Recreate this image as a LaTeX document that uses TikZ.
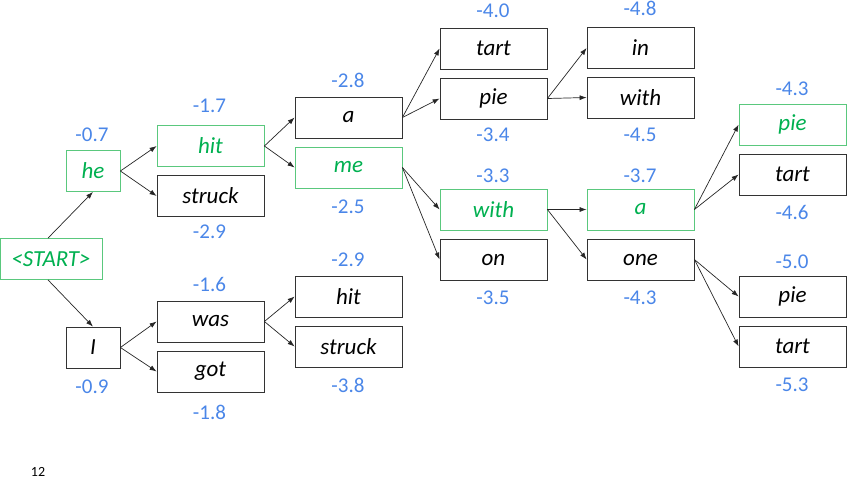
\documentclass[tikz,border=0pt]{standalone}
\usepackage{fontspec}
\setmainfont{Carlito}
\usepackage{xcolor}
\usetikzlibrary{arrows.meta}

\definecolor{keepgreen}{RGB}{0,176,80}
\definecolor{keepline}{RGB}{90,200,125}
\definecolor{scoreblue}{RGB}{74,134,232}

\begin{document}
\begin{tikzpicture}[
    x=1pt, y=-1pt,
    word/.style={draw=black!80, line width=0.8pt, minimum width=107pt, minimum height=41pt, inner sep=0pt, font=\fontsize{23}{26}\selectfont\itshape},
    kept/.style={word, draw=keepline, text=keepgreen},
    narrow/.style={minimum width=54pt},
    score/.style={text=scoreblue, inner sep=0pt, font=\fontsize{21}{24}\selectfont},
    >={Latex[length=7pt,width=5pt]}
]
\useasboundingbox (0,0) rectangle (848,480);

% Nodes
\node[kept, minimum width=102pt] (start) at (51,259) {<START>};

\node[kept, narrow] (he) at (93,171) {he};
\node[word, narrow] (I) at (93,347.5) {I};

\node[kept] (hit) at (210.5,146) {hit};
\node[word] (struck) at (210.5,196) {struck};
\node[word] (was) at (210.5,321.5) {was};
\node[word] (got) at (210.5,371.5) {got};

\node[word] (a) at (348.5,117.5) {a};
\node[kept] (me) at (348.5,167.5) {me};
\node[word] (hitb) at (348.5,296.5) {hit};
\node[word] (struckb) at (348.5,346.5) {struck};

\node[word] (tart) at (493.5,48.5) {tart};
\node[word] (pie) at (493.5,98.5) {pie};
\node[kept] (with) at (493.5,209.5) {with};
\node[word] (on) at (493.5,259.5) {on};

\node[word] (in) at (640.5,48) {in};
\node[word] (withb) at (640.5,97.5) {with};
\node[kept] (ab) at (640.5,209.5) {a};
\node[word] (one) at (640.5,259.5) {one};

\node[kept] (piec) at (792.5,124.5) {pie};
\node[word] (tartc) at (792.5,174.5) {tart};
\node[word] (pied) at (792.5,296.5) {pie};
\node[word] (tartd) at (792.5,346.5) {tart};

% Scores
\node[score] (s-he) at (92,135) {-0.7};
\node[score] (s-I) at (92,387) {-0.9};
\node[score] (s-hit) at (209.5,106) {-1.7};
\node[score] (s-struck) at (209.5,232) {-2.9};
\node[score] (s-was) at (209.5,284) {-1.6};
\node[score] (s-got) at (209.5,412) {-1.8};
\node[score] (s-a) at (348,80) {-2.8};
\node[score] (s-me) at (348,207) {-2.5};
\node[score] (s-hitb) at (348,260) {-2.9};
\node[score] (s-struckb) at (348,385) {-3.8};
\node[score] (s-tart) at (493,11) {-4.0};
\node[score] (s-pie) at (493,135) {-3.4};
\node[score] (s-with) at (493,176) {-3.3};
\node[score] (s-on) at (493,298) {-3.5};
\node[score] (s-in) at (640,8) {-4.8};
\node[score] (s-withb) at (640,135) {-4.5};
\node[score] (s-ab) at (640,176) {-3.7};
\node[score] (s-one) at (640,298) {-4.3};
\node[score] (s-piec) at (792,89) {-4.3};
\node[score] (s-tartc) at (792,212) {-4.6};
\node[score] (s-pied) at (792,262) {-5.0};
\node[score] (s-tartd) at (792,385) {-5.3};

\node[font=\fontsize{14}{16}\selectfont, inner sep=0pt] (page) at (38,472) {12};

% Edges
\begin{scope}[draw=black!85, line width=0.7pt]
\draw[->] ([xshift=-3pt]start.north) -- (he.south);
\draw[->] ([xshift=-3pt]start.south) -- (I.north);
\foreach \p/\c in {he/hit, he/struck, I/was, I/got,
                   hit/a, hit/me, was/hitb, was/struckb,
                   a/tart, a/pie, me/with, me/on,
                   pie/in, pie/withb, with/ab, with/one,
                   ab/piec, ab/tartc, one/pied, one/tartd}
    \draw[->] (\p.east) -- (\c.west);
\end{scope}

\end{tikzpicture}
\end{document}
